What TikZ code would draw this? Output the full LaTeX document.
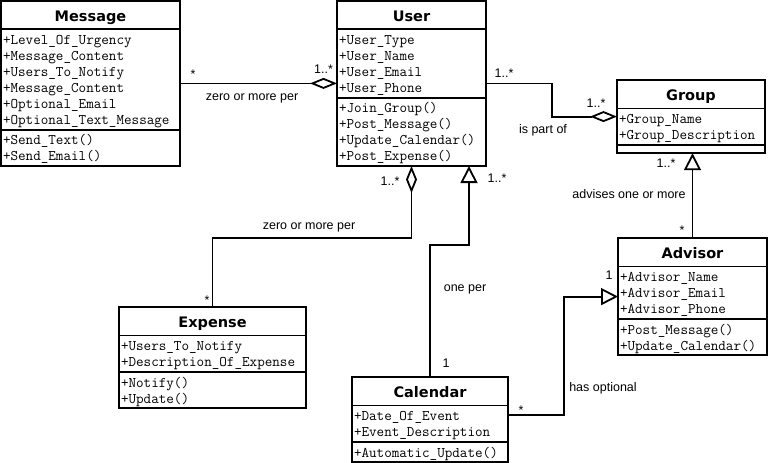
\documentclass[tikz,border=0pt]{standalone}
\usepackage{fontspec}
\setmainfont{Liberation Sans}
\newfontfamily\titlefamily{DejaVu Sans}
\usetikzlibrary{shapes.multipart, arrows.meta}

\newcommand{\attrfont}{\ttfamily\fontsize{14.7pt}{16pt}\selectfont}
\newcommand{\labelfont}{\fontsize{12.5pt}{14pt}\selectfont}
\newcommand{\rs}{\rule[-3pt]{0pt}{16pt}}
\newcommand{\row}[1]{\rs\smash{#1}}
\newcommand{\classtitle}[1]{\hbox to\hsize{\hss\rule[-6pt]{0pt}{24pt}{\titlefamily\bfseries\fontsize{14.5pt}{16pt}\selectfont #1}\hss}}

\tikzset{
	umlclass/.style={rectangle split, rectangle split parts=3, draw, line width=1.8pt,
		fill=white, inner xsep=2pt, inner ysep=1.3pt, outer sep=0pt,
		anchor=north west, align=left, font=\attrfont},
	aggr/.style={line width=1.8pt, {Diamond[open,length=27pt,width=11pt]}-},
	gener/.style={line width=1.8pt, -{Triangle[open,length=17pt,width=17pt]}},
	lbl/.style={font=\labelfont, inner sep=0pt, anchor=base},
}

\begin{document}
\begin{tikzpicture}[x=1pt, y=-1pt]
	\useasboundingbox (0,0) rectangle (769,463);

	% classes
	\node[umlclass, text width=175pt] (message) at (1,0.8) {\classtitle{Message}
		\nodepart{two}\row{+Level\_Of\_Urgency}\\\row{+Message\_Content}\\\row{+Users\_To\_Notify}\\
		\row{+Message\_Content}\\\row{+Optional\_Email}\\\row{+Optional\_Text\_Message}
		\nodepart{three}\row{+Send\_Text()}\\\row{+Send\_Email()}};
	\node[umlclass, text width=145pt] (user) at (337,0.8) {\classtitle{User}
		\nodepart{two}\row{+User\_Type}\\\row{+User\_Name}\\\row{+User\_Email}\\\row{+User\_Phone}
		\nodepart{three}\row{+Join\_Group()}\\\row{+Post\_Message()}\\\row{+Update\_Calendar()}\\\row{+Post\_Expense()}};
	\node[umlclass, text width=144pt] (group) at (617,80) {\classtitle{Group}
		\nodepart{two}\row{+Group\_Name}\\\row{+Group\_Description}
		\nodepart{three}\rule{0pt}{4pt}};
	\node[umlclass, text width=145pt] (advisor) at (618,238) {\classtitle{Advisor}
		\nodepart{two}\row{+Advisor\_Name}\\\row{+Advisor\_Email}\\\row{+Advisor\_Phone}
		\nodepart{three}\row{+Post\_Message()}\\\row{+Update\_Calendar()}};
	\node[umlclass, text width=183pt] (expense) at (119,307) {\classtitle{Expense}
		\nodepart{two}\row{+Users\_To\_Notify}\\\row{+Description\_Of\_Expense}
		\nodepart{three}\row{+Notify()}\\\row{+Update()}};
	\node[umlclass, text width=152pt] (calendar) at (352,377) {\classtitle{Calendar}
		\nodepart{two}\row{+Date\_Of\_Event}\\\row{+Event\_Description}
		\nodepart{three}\row{+Automatic\_Update()}};

	% associations
	\draw[aggr] (user.west) -- (message.east);
	\draw[aggr] (group.west) -- ++(-65,0) |- (user.east);
	\draw[aggr] (user.south) -- ++(0,72) -| (expense.north);
	\draw[gener] (calendar.north) -- ++(0,-132) -| ([xshift=-17pt]user.south east);
	\draw[gener] (advisor.north) -- (advisor.north |- group.south);
	\draw[gener] ([yshift=5pt]calendar.east) -- ++(56,0) |- (advisor.west);

	% multiplicities and roles
	\node[lbl] (mulMsgUser) at (193,78) {*};
	\node[lbl] (mulUserMsg) at (323.5,73) {1..*};
	\node[lbl] (lblMsgUser) at (252,100) {zero or more per};
	\node[lbl] (mulUserGroup) at (504,77) {1..*};
	\node[lbl] (mulGroupUser) at (596,107) {1..*};
	\node[lbl] (lblUserGroup) at (543,133) {is part of};
	\node[lbl] (mulGroupAdv) at (666,167) {1..*};
	\node[lbl] (lblAdvGroup) at (629,198) {advises one or more};
	\node[lbl] (mulAdvGroup) at (682,234) {*};
	\node[lbl] (mulAdvCal) at (609,279) {1};
	\node[lbl] (lblCalAdv) at (603,391) {has optional};
	\node[lbl] (mulCalAdv) at (521,414) {*};
	\node[lbl] (mulUserExp) at (390,185) {1..*};
	\node[lbl] (lblUserExp) at (309,229) {zero or more per};
	\node[lbl] (mulExpUser) at (207,304) {*};
	\node[lbl] (mulUserCal) at (497,182) {1..*};
	\node[lbl] (lblUserCal) at (465,291) {one per};
	\node[lbl] (mulCalUser) at (446,367) {1};
\end{tikzpicture}
\end{document}
